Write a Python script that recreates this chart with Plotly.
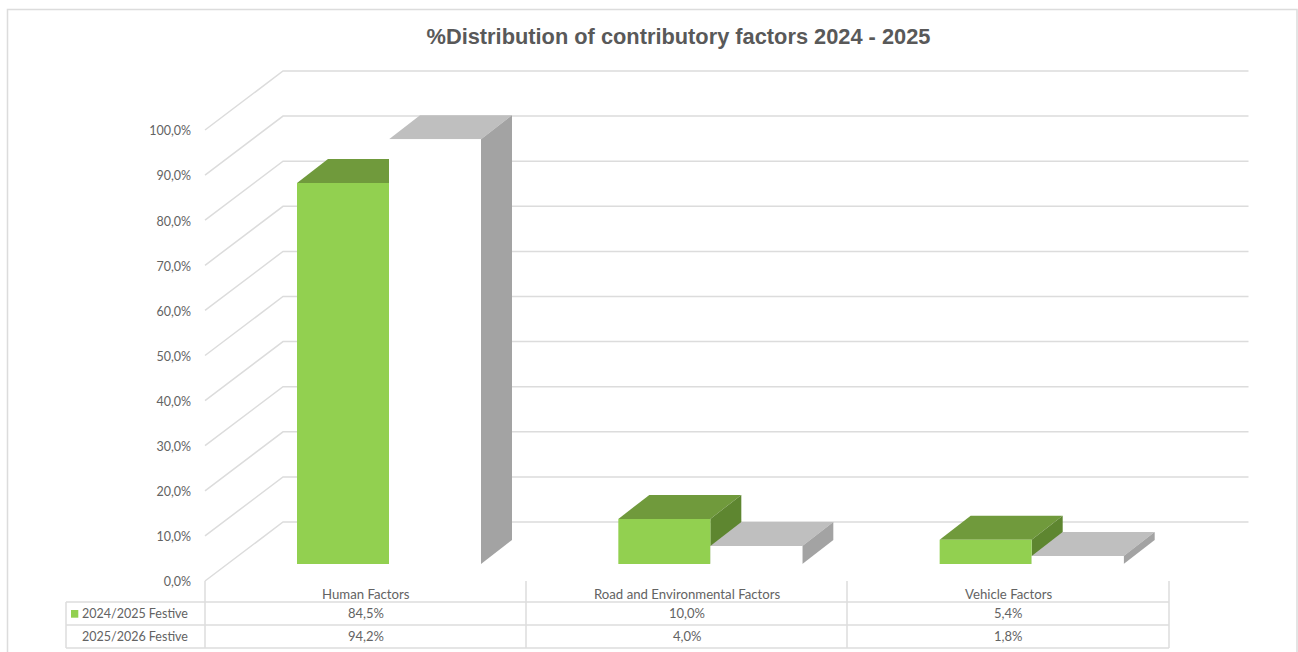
import plotly.graph_objects as go

# ---- data ----
categories = ["Human Factors", "Road and Environmental Factors", "Vehicle Factors"]
series_names = ["2024/2025 Festive", "2025/2026 Festive"]
values_2024 = [84.5, 10.0, 5.4]
values_2025 = [94.2, 4.0, 1.8]
axis_ticks = [0, 10, 20, 30, 40, 50, 60, 70, 80, 90, 100]
axis_labels = ["0,0%", "10,0%", "20,0%", "30,0%", "40,0%", "50,0%", "60,0%", "70,0%", "80,0%", "90,0%", "100,0%"]
table_2024 = ["84,5%", "10,0%", "5,4%"]
table_2025 = ["94,2%", "4,0%", "1,8%"]
title = "%Distribution of contributory factors 2024 - 2025"

# ---- layout geometry ----
W, H = 1298, 652
PX_PER_CAT = 321.33
PX_PER_PCT = 4.51
X0_PX = 365.67      # pixel of category 0 centre
Y0_PX = 581.0       # pixel of 0 % on the axis
BASE = (Y0_PX - 564) / PX_PER_PCT   # bars stand on a plane behind the axis
BAR_W = 92 / PX_PER_CAT
OFF1 = (297 - X0_PX) / PX_PER_CAT
OFF2 = (389 - X0_PX) / PX_PER_CAT
DX = 31 / PX_PER_CAT
DY = 24 / PX_PER_PCT
WALL_DX = 78 / PX_PER_CAT
WALL_DY = 59 / PX_PER_PCT
FLOOR_L = -0.5
WALL_R = (1248.5 - X0_PX) / PX_PER_CAT
X_RANGE = [(0 - X0_PX) / PX_PER_CAT, (W - X0_PX) / PX_PER_CAT]
Y_RANGE = [(Y0_PX - H) / PX_PER_PCT, Y0_PX / PX_PER_PCT]

GRID = "#dcdcdc"
TEXT = "#595959"
LABEL = "#636363"
GREEN = "#92d050"
GREEN_TOP = "#709a3c"
GREEN_SIDE = "#5e8630"
GRAY_TOP = "#bfbfbf"
GRAY_SIDE = "#a3a3a3"


def px(x):
    return x / W


def py(y):
    return 1 - y / H


fig = go.Figure()


def poly(xs, ys, color, xa, ya):
    fig.add_trace(go.Scatter(x=xs, y=ys, mode="lines", fill="toself", fillcolor=color,
                             line=dict(width=0), hoverinfo="skip", showlegend=False,
                             xaxis=xa, yaxis=ya))


def box_faces(i, value, offset, top_color, side_color, xa, ya):
    left = i + offset
    right = left + BAR_W
    top = BASE + value
    poly([left, right, right + DX, left + DX, left],
         [top, top, top + DY, top + DY, top], top_color, xa, ya)
    poly([right, right + DX, right + DX, right, right],
         [BASE, BASE + DY, top + DY, top, BASE], side_color, xa, ya)


# layer 1: gridlines on the side and back walls, and the depth faces of the first series
for t in axis_ticks:
    fig.add_trace(go.Scatter(
        x=[FLOOR_L, FLOOR_L + WALL_DX, WALL_R],
        y=[t, t + WALL_DY, t + WALL_DY],
        mode="lines", line=dict(color=GRID, width=1.5), hoverinfo="skip",
        showlegend=False, xaxis="x", yaxis="y"))
for i, v in enumerate(values_2024):
    box_faces(i, v, OFF1, GREEN_TOP, GREEN_SIDE, "x", "y")

# layer 2: front of the first series, depth faces of the second
fig.add_trace(go.Bar(x=[0, 1, 2], y=values_2024, base=BASE, width=BAR_W, offset=OFF1,
                     marker=dict(color=GREEN, line=dict(width=0)), name=series_names[0],
                     xaxis="x2", yaxis="y2", showlegend=False))
for i, v in enumerate(values_2025):
    box_faces(i, v, OFF2, GRAY_TOP, GRAY_SIDE, "x2", "y2")

# layer 3: white front of the second series
fig.add_trace(go.Bar(x=[0, 1, 2], y=values_2025, base=BASE, width=BAR_W, offset=OFF2,
                     marker=dict(color="#ffffff", line=dict(width=0)), name=series_names[1],
                     xaxis="x3", yaxis="y3", showlegend=False))

# ---- frame and data table lines ----
shapes = [dict(type="rect", xref="paper", yref="paper", x0=px(7.5), x1=px(1297), y0=py(9.5), y1=py(670),
               line=dict(color=GRID, width=1.5), layer="below")]
for xp in (205, 526, 847, 1169):
    shapes.append(dict(type="line", xref="paper", yref="paper", x0=px(xp), x1=px(xp), y0=py(581), y1=py(648),
                       line=dict(color=GRID, width=1.5)))
shapes.append(dict(type="line", xref="paper", yref="paper", x0=px(66), x1=px(66), y0=py(602), y1=py(648),
                   line=dict(color=GRID, width=1.5)))
for yp in (602, 625, 648):
    shapes.append(dict(type="line", xref="paper", yref="paper", x0=px(66), x1=px(1169), y0=py(yp), y1=py(yp),
                       line=dict(color=GRID, width=1.5)))
# legend key
shapes.append(dict(type="rect", xref="paper", yref="paper", x0=px(71), x1=px(78.3), y0=py(617.7), y1=py(610),
                   fillcolor=GREEN, line=dict(width=0)))

# ---- table text ----
annotations = []


def label(x, y, text, size, anchor="center"):
    annotations.append(dict(xref="paper", yref="paper", x=px(x), y=py(y), text=text, showarrow=False,
                            xanchor=anchor, yanchor="middle",
                            font=dict(family="Lato", size=size, color=LABEL)))


for row_y, name, vals in ((613, series_names[0], table_2024), (636, series_names[1], table_2025)):
    label(189.5, row_y, name, 12.5, "right")
    for col_x, txt in zip((365.5, 686.5, 1008), vals):
        label(col_x, row_y, txt, 13)
for col_x, txt in zip((365.5, 686.5, 1008), categories):
    label(col_x, 594, txt, 13.2)

hidden_x = dict(range=X_RANGE, visible=False, fixedrange=True, domain=[0, 1])
hidden_y = dict(range=Y_RANGE, visible=False, fixedrange=True, domain=[0, 1])

fig.update_layout(
    width=W, height=H,
    margin=dict(l=0, r=0, t=0, b=0),
    paper_bgcolor="white", plot_bgcolor="white",
    barmode="overlay",
    showlegend=False,
    title=dict(text=title, x=678.5 / W, y=1 - 36 / H, xanchor="center", yanchor="middle",
               font=dict(family="Liberation Sans", size=21.8, color=TEXT, weight="bold")),
    xaxis=hidden_x,
    xaxis2=dict(hidden_x, overlaying="x"),
    xaxis3=dict(hidden_x, overlaying="x"),
    yaxis=dict(domain=[0, 1], range=Y_RANGE,
               anchor="free", position=px(191), side="left",
               tickmode="array", tickvals=axis_ticks, ticktext=axis_labels,
               ticklabelshift=1,
               showgrid=False, zeroline=False, showline=False, ticks="",
               tickfont=dict(family="Lato", size=12.5, color=LABEL), fixedrange=True),
    yaxis2=dict(hidden_y, overlaying="y"),
    yaxis3=dict(hidden_y, overlaying="y"),
    shapes=shapes,
    annotations=annotations,
)
fig.write_html("out.html", config=dict(displayModeBar=False),
               post_script="document.body.style.margin='0';document.body.style.overflow='hidden';")
